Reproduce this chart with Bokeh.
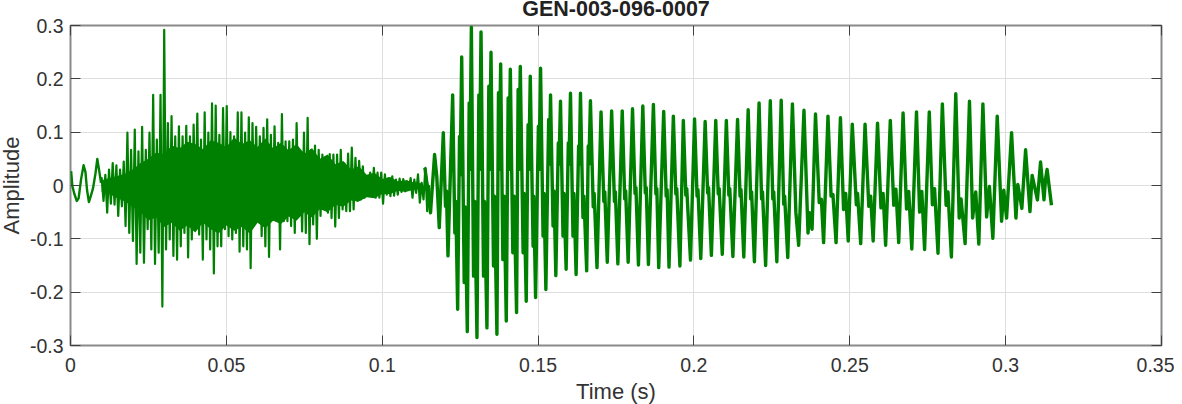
from bokeh.embed import file_html
from bokeh.resources import INLINE
from bokeh.plotting import figure
from bokeh.models import FixedTicker, LinearAxis, Range1d

title_text = "GEN-003-096-0007"
x_label = "Time (s)"
y_label = "Amplitude"
x_ticks = [0, 0.05, 0.1, 0.15, 0.2, 0.25, 0.3, 0.35]
x_tick_labels = ["0", "0.05", "0.1", "0.15", "0.2", "0.25", "0.3", "0.35"]
y_ticks = [-0.3, -0.2, -0.1, 0, 0.1, 0.2, 0.3]
y_tick_labels = ["-0.3", "-0.2", "-0.1", "0", "0.1", "0.2", "0.3"]

# opening low-frequency part of the recording
onset_t = [.0002, .0006, .0012, .0020, .0026, .0034, .0042, .0048, .0053, .0059, .0066, .0072, .0080, .0086, .0092, .0098]
onset_v = [.027, -.001, -.015, -.029, -.024, .012, .038, .025, -.008, -.031, -.018, -.006, .022, .050, .028, .005]

# fricative noise: extremes read along the upper and lower edge
noise_start = .0100
noise_step = .00118
noise_up = [.014, .020, .030, .042, .038, .030, .045, .099, .067, .105, .064, .110, .067, .099, .170,
            .086, .170, .292, .117, .130, .092, .111, .092, .112, .092, .114, .135, .086, .137, .099, .154,
            .150, .095, .145, .149, .100, .092, .137, .137, .099, .128, .117, .110, .092,
            .108, .124, .095, .111, .080, .134, .083, .083, .086, .117, .058, .099, .127, .067, .075, .067,
            .058, .049, .059, .058, .058, .067, .041, .060, .071, .052, .046, .036, .017, .024, .033, .024,
            .024, .021, .014, .017, .011, .013, .012, .008, .014, .011, .021, .005, .033, -.001]
noise_dn = [-.029, -.051, -.034, -.036, -.057, -.039, -.076, -.089, -.104, -.147, -.126, -.145, -.082,
            -.120, -.147, -.126, -.227, -.120, -.101, -.132, -.139, -.114, -.089, -.135, -.101, -.064, -.092,
            -.139, -.101, -.120, -.165, -.114, -.114, -.082, -.095, -.101, -.089, -.124, -.114, -.120, -.155,
            -.057, -.057, -.095, -.114, -.134, -.064, -.057, -.120, -.067, -.067, -.076, -.089, -.048, -.086,
            -.089, -.110, -.073, -.100, -.057, -.036, -.051, -.061, -.077, -.061, -.045, -.048, -.048, -.045,
            -.029, -.026, -.023, -.017, -.020, -.023, -.023, -.034, -.017, -.020, -.019, -.017, -.012, -.011,
            -.007, -.023, -.014, -.032, -.026, -.048, -.040]

# solid, jagged body of the noise
core_start = .0100
core_step = .0025
core_up = [.010, .014, .018, .022, .030, .042, .050, .062, .058, .075, .070, .082, .078, .068, .085, .080, .072, .090, .078, .085, .072,
           .088, .070, .080, .066, .078, .060, .070, .050, .058, .040, .046, .030, .036, .020, .024, .012, .016, .008, .010, .006, .004]
core_dn = [-.012, -.016, -.024, -.030, -.040, -.050, -.065, -.060, -.078, -.070, -.085, -.075, -.088, -.070, -.082, -.090, -.075, -.085, -.078, -.090, -.070,
           -.080, -.066, -.072, -.058, -.066, -.050, -.060, -.044, -.050, -.036, -.040, -.028, -.030, -.022, -.024, -.016, -.016, -.010, -.012, -.008, -.006]

# voiced part: main peaks
peak_t = [.1137, .1168, .1196, .1226, .1255, .1286, .1317, .1349, .1380, .1411, .1443, .1475, .1508, .1540, .1572,
          .1604, .1636, .1668, .1702, .1736, .1770, .1803, .1836, .1870, .1903, .1934, .1966, .2002, .2036, .2070,
          .2104, .2140, .2174, .2209, .2245, .2280, .2316, .2353, .2390, .2430, .2470, .2508, .2549, .2589, .2630,
          .2671, .2714, .2755, .2797, .2840, .2884, .2927, .2973, .3019, .3064, .3112, .3133]
peak_v = [.033, .058, .099, .170, .241, .297, .288, .250, .228, .218, .223, .205, .220, .170, .158,
          .173, .173, .159, .138, .140, .140, .144, .149, .152, .139, .130, .122, .125, .120, .122,
          .122, .124, .142, .155, .159, .160, .153, .141, .134, .130, .127, .115, .115, .117, .122,
          .136, .138, .138, .153, .172, .158, .153, .130, .099, .067, .044, .030]

# voiced part: deepest troughs
trough_t = [.1155, .1183, .1211, .1242, .1273, .1304, .1336, .1368, .1398, .1431, .1462, .1492, .1525, .1557, .1590,
            .1622, .1656, .1689, .1722, .1756, .1789, .1822, .1854, .1887, .1920, .1955, .1989, .2022, .2056, .2091,
            .2125, .2160, .2194, .2230, .2266, .2301, .2336, .2366, .2416, .2456, .2495, .2535, .2575, .2615, .2657,
            .2699, .2740, .2783, .2826, .2870, .2914, .2959, .3003, .3033, .3052, .3078, .3102, .3123, .3147]
trough_v = [-.051, -.079, -.132, -.232, -.274, -.285, -.267, -.279, -.254, -.238, -.217, -.210, -.195, -.169, -.157,
            -.167, -.160, -.154, -.144, -.147, -.144, -.149, -.148, -.154, -.153, -.151, -.140, -.137, -.131, -.129,
            -.133, -.134, -.143, -.150, -.143, -.135, -.112, -.089, -.107, -.107, -.104, -.109, -.104, -.112, -.107,
            -.119, -.120, -.127, -.134, -.109, -.110, -.099, -.061, -.061, -.043, -.049, -.027, -.027, -.037]

# voiced part: dip and small rebound on each falling stroke
shoulder_t = [.1175, .1203, .1206, .1233, .1236, .1263, .1266, .1293, .1297, .1325, .1328, .1357, .1360, .1387, .1391,
              .1419, .1423, .1452, .1455, .1484, .1486, .1516, .1519, .1548, .1551, .1580, .1583, .1612, .1615, .1644,
              .1647, .1677, .1680, .1711, .1714, .1745, .1748, .1778, .1781, .1811, .1814, .1844, .1847, .1878, .1881,
              .1911, .1914, .1942, .1945, .1974, .1977, .2010, .2013, .2044, .2047, .2078, .2081, .2112, .2115, .2148,
              .2151, .2182, .2185, .2217, .2220, .2253, .2256, .2288, .2291, .2327, .2371, .2379, .2402, .2409, .2440,
              .2446, .2480, .2487, .2521, .2525, .2561, .2567, .2600, .2607, .2641, .2648, .2682, .2689, .2724, .2731,
              .2765, .2772, .2809, .2815, .2851, .2857, .2894, .2904, .2939, .2948, .2987, .2994, .3039, .3085, .3128]
shoulder_v = [.017, -.039, -.010, -.089, -.030, -.182, -.040, -.170, -.030, -.170, -.030, -.151, -.020, -.139, -.020,
              -.126, -.020, -.126, -.015, -.114, -.020, -.095, -.015, -.076, -.010, -.095, -.015, -.095, -.015, -.060,
              -.020, -.040, -.015, -.030, -.012, -.030, -.012, -.025, -.010, -.015, -.004, -.014, -.004, -.016, -.006,
              -.020, -.008, -.016, -.006, -.018, -.006, -.020, -.008, -.014, -.004, -.016, -.006, -.018, -.006, -.020,
              -.008, -.025, -.012, -.025, -.012, -.025, -.012, -.035, -.020, -.050, -.051, -.082, -.032, -.026, -.020,
              -.017, -.045, -.015, -.036, -.015, -.039, -.020, -.042, -.015, -.037, -.007, -.044, -.011, -.050, -.011,
              -.036, -.006, -.037, -.012, -.061, -.025, -.061, -.012, -.059, -.002, -.067, -.009, .002, .019, .012]

# voiced part: secondary top and notch on the rising stroke
rise_t = [.1248, .1250, .1279, .1281, .1310, .1312, .1342, .1344, .1373, .1375, .1404, .1406, .1436, .1438, .1468, .1470,
          .1501, .1503, .1534, .1536, .1565, .1567, .1597, .1599, .1630, .1632, .1661, .1663]
rise_v = [.092, .020, .155, .030, .170, .030, .186, .030, .174, .030, .164, .030, .180, .030, .114, .030,
          .111, .030, .124, .040, .080, .040, .080, .040, .074, .040, .074, .040]

noise_t, noise_v = [], []
for i, (u, d) in enumerate(zip(noise_up, noise_dn)):
    noise_t += [noise_start + i * noise_step, noise_start + (i + .5) * noise_step]
    noise_v += [u, d]

core_t = [core_start + i * core_step for i in range(len(core_up))]

voiced = sorted(zip(peak_t + trough_t + shoulder_t + rise_t, peak_v + trough_v + shoulder_v + rise_v))
voiced_t = [a for a, _ in voiced]
voiced_v = [b for _, b in voiced]

green = "#008000"
grid = "#dedede"
frame = "#8a8a8a"
ink = "#333333"
font = "Liberation Sans"

p = figure(width=1182, height=404, output_backend="svg", toolbar_location=None,
           x_range=Range1d(0, 0.35), y_range=Range1d(-0.3, 0.3),
           frame_width=1091, frame_height=320,
           min_border_left=78, min_border_right=13, min_border_top=33, min_border_bottom=51,
           background_fill_color="white", border_fill_color="white",
           styles={"margin": "-8px 0 0 -8px"})

p.title.text = title_text
p.title.align = "center"
p.title.text_font = font
p.title.text_font_size = "21.5px"
p.title.text_font_style = "bold"
p.title.text_color = "#222222"
p.title.standoff = 1
p.title.offset = 0

p.outline_line_color = frame
p.outline_line_width = 2

for ax, lab, ticks, labels in ((p.xaxis[0], x_label, x_ticks, x_tick_labels), (p.yaxis[0], y_label, y_ticks, y_tick_labels)):
    ax.ticker = FixedTicker(ticks=ticks)
    ax.major_label_overrides = dict(zip(ticks, labels))
    ax.axis_label = lab
    ax.axis_label_text_font = font
    ax.axis_label_text_font_size = "22px"
    ax.axis_label_text_font_style = "normal"
    ax.axis_label_text_color = ink
    ax.major_label_text_font = font
    ax.major_label_text_font_size = "19.5px"
    ax.major_label_text_color = ink
    ax.major_tick_in = 10
    ax.major_tick_out = 0
    ax.minor_tick_in = 0
    ax.minor_tick_out = 0
    ax.major_tick_line_color = "#404040"
    ax.axis_line_color = None

p.xaxis[0].major_label_standoff = 12
p.xaxis[0].axis_label_standoff = 4
p.yaxis[0].major_label_standoff = 7
p.yaxis[0].axis_label_standoff = 3

for side, ticks in (("above", x_ticks), ("right", y_ticks)):
    extra = LinearAxis(ticker=FixedTicker(ticks=ticks), major_label_overrides={t: " " for t in ticks},
                       major_tick_in=10, major_tick_out=0, minor_tick_in=0, minor_tick_out=0,
                       major_tick_line_color="#404040", axis_line_color=None,
                       major_label_text_font_size="1px", major_label_standoff=0)
    p.add_layout(extra, side)

p.xgrid.ticker = FixedTicker(ticks=x_ticks)
p.ygrid.ticker = FixedTicker(ticks=y_ticks)
p.xgrid.grid_line_color = grid
p.ygrid.grid_line_color = grid

p.varea(x=core_t, y1=core_dn, y2=core_up, fill_color=green)
p.line(onset_t, onset_v, line_color=green, line_width=2.4, line_join="round")
p.line([onset_t[-1]] + noise_t + [voiced_t[0]], [onset_v[-1]] + noise_v + [voiced_v[0]],
       line_color=green, line_width=2.2, line_join="round")
p.line(voiced_t, voiced_v, line_color=green, line_width=3.4, line_join="round")

open("out.html", "w").write(file_html(p, INLINE))
